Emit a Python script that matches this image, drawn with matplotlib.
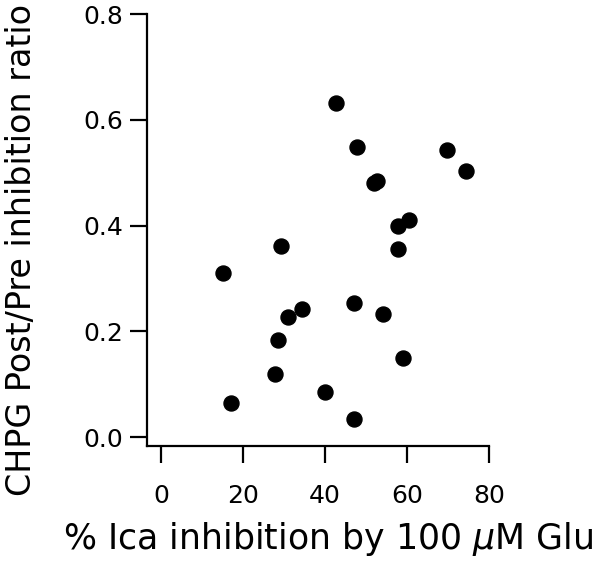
import matplotlib
matplotlib.use('Agg')
import matplotlib.pyplot as plt

# % Ica inhibition by 100 uM Glu vs CHPG post/pre ratio
ica_inhib = [42.6, 47.7, 69.8, 74.4, 52.0, 52.8, 60.5, 57.7, 57.7, 29.2, 15.2,
             47.0, 34.3, 31.1, 54.1, 28.5, 59.1, 27.9, 40.0, 17.1, 47.0]
chpg_ratio = [0.632, 0.548, 0.543, 0.504, 0.480, 0.485, 0.410, 0.400, 0.356, 0.361, 0.311,
              0.253, 0.243, 0.228, 0.233, 0.183, 0.149, 0.119, 0.085, 0.065, 0.035]
xticks = [0, 20, 40, 60, 80]
yticks = [0.0, 0.2, 0.4, 0.6, 0.8]

plt.rcParams['font.family'] = 'DejaVu Sans'
fig = plt.figure(figsize=(6.0, 5.66), dpi=100)
ax = fig.add_axes([0.245, 0.212, 0.57, 0.763])

ax.plot(ica_inhib, chpg_ratio, 'o', color='black', markersize=10.8, clip_on=False)

ax.set_xlim(-3.4, 80)
ax.set_ylim(-0.017, 0.8)
ax.set_xticks(xticks)
ax.set_yticks(yticks)
ax.set_yticklabels(['%.1f' % v for v in yticks], fontsize=18)
ax.set_xticklabels([str(v) for v in xticks], fontsize=18)

for side in ['top', 'right']:
    ax.spines[side].set_visible(False)
for side in ['left', 'bottom']:
    ax.spines[side].set_linewidth(1.6)
ax.tick_params(axis='both', direction='out', length=12, width=1.6, color='black')
ax.tick_params(axis='x', pad=15)
ax.tick_params(axis='y', pad=5)

ax.set_xlabel('% Ica inhibition by 100 $\\mu$M Glu', fontsize=25)
ax.xaxis.set_label_coords(0.529, -0.172)
ax.set_ylabel('CHPG Post/Pre inhibition ratio', fontsize=24)
ax.yaxis.set_label_coords(-0.318, 0.454)

fig.savefig('out.png', dpi=100)
